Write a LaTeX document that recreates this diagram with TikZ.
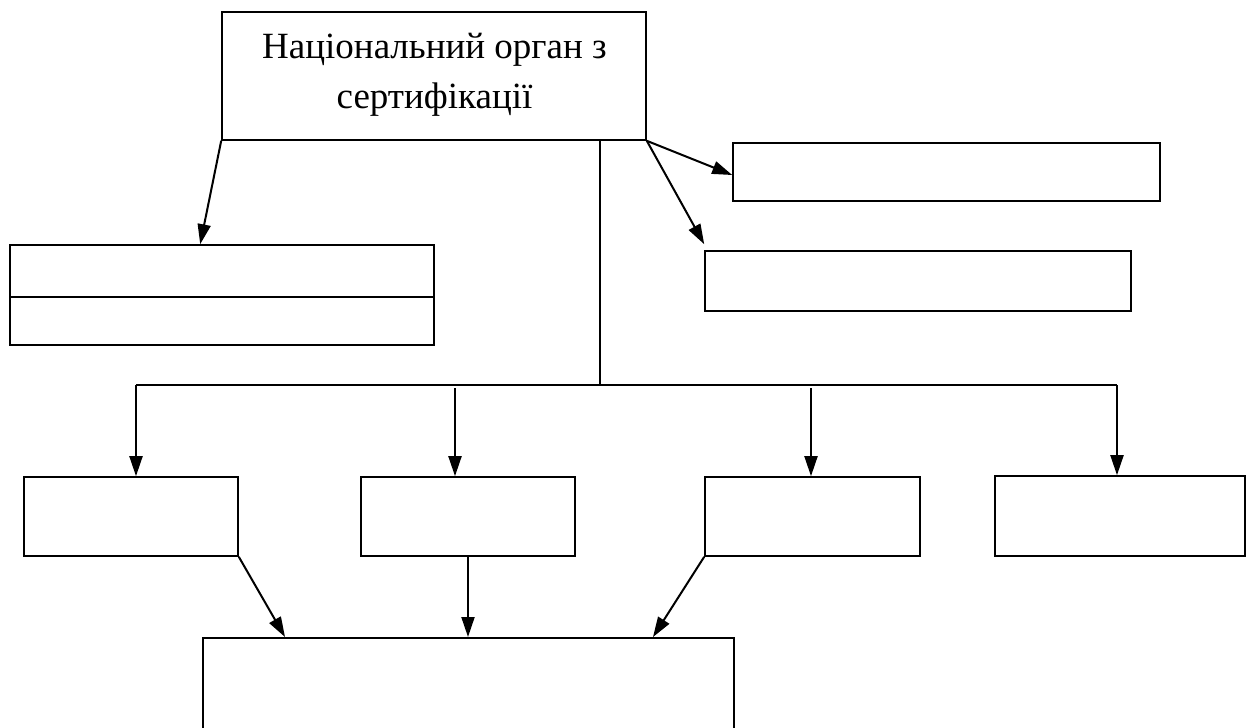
\documentclass[tikz,border=0pt]{standalone}
\usepackage{fontspec}
\setmainfont{Liberation Serif}
\usetikzlibrary{arrows.meta,calc}
\tikzset{
  boxn/.style={draw=black, line width=1.6pt, fill=none, inner sep=0pt, minimum width=#1},
  lbl/.style={inner sep=0pt, anchor=base, font=\fontsize{37}{50}\selectfont},
  arr/.style={line width=2pt, -{Triangle[length=20pt,width=13pt]}},
  plain/.style={line width=2pt},
  thin/.style={line width=1.2pt}
}
\begin{document}
\begin{tikzpicture}[x=1pt,y=-1pt]
\useasboundingbox (0,0) rectangle (1248,728);
\fill[white] (0,0) rectangle (1248,728);
% nodes
\node[boxn=424pt, minimum height=128pt] (top) at (434,76) {};
\node[lbl] (t1) at (434.5,58.3) {Національний орган з};
\node[lbl] (t2) at (434.5,108) {сертифікації};
\node[boxn=424pt, minimum height=100pt] (left) at (222,295) {};
\node[boxn=427pt, minimum height=58pt] (r1) at (946.5,172) {};
\node[boxn=426pt, minimum height=60pt] (r2) at (918,281) {};
\node[boxn=214pt, minimum height=79pt] (b1) at (131,516.5) {};
\node[boxn=214pt, minimum height=79pt] (b2) at (468,516.5) {};
\node[boxn=215pt, minimum height=79pt] (b3) at (812.5,516.5) {};
\node[boxn=250pt, minimum height=80pt] (b4) at (1120,516) {};
\node[boxn=531pt, minimum height=130pt, anchor=north west] (bot) at (202,637) {};
% divider in left box
\draw[line width=1.6pt] ([yshift=-2pt]left.west) -- ([yshift=-2pt]left.east);
% bus coordinates
\coordinate (vtop) at (600,140);
\coordinate (hub) at (600,385);
\coordinate (h1) at (136,385);
\coordinate (h2) at (455,388);
\coordinate (h3) at (811,388);
\coordinate (h4) at (1117,385);
% connectors from top box
\draw[arr] (top.south west) -- ([xshift=191pt]left.north west);
\draw[arr] (top.south east) -- ([yshift=-3pt]r1.west);
\draw[arr] (top.south east) -- ([yshift=6pt]r2.north west);
\draw[thin] (vtop) -- (hub);
\draw[plain] (h1) -- (h4);
\draw[arr] (h1) -- (h1 |- b1.north);
\draw[arr] (h2) -- (h2 |- b2.north);
\draw[arr] (h3) -- (h3 |- b3.north);
\draw[arr] (h4) -- (h4 |- b4.north);
% connectors to bottom box
\draw[arr] (b1.south east) -- ([xshift=83pt]bot.north west);
\draw[arr] (b2.south) -- (b2.south |- bot.north);
\draw[arr] (b3.south west) -- ([xshift=451pt]bot.north west);
\end{tikzpicture}
\end{document}
